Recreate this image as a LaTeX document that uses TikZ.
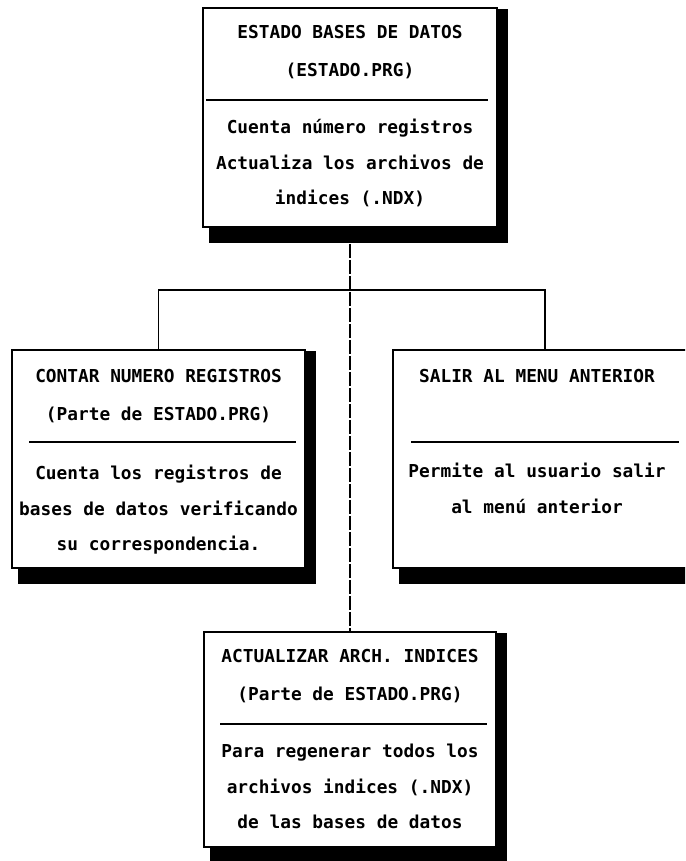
\documentclass[tikz,border=0pt]{standalone}
\usepackage{fontspec}
\setmonofont{DejaVu Sans Mono}
\usetikzlibrary{positioning}

\begin{document}
\begin{tikzpicture}[x=1pt,y=-1pt,
	modbox/.style={draw, line width=1.6pt, fill=white, inner sep=0pt, minimum height=218pt},
	titletext/.style={font=\ttfamily\bfseries\fontsize{17.8}{38}\selectfont, align=center, inner sep=0pt},
	bodytext/.style={font=\ttfamily\bfseries\fontsize{17.8}{35.5}\selectfont, align=center, inner sep=0pt},
	sepline/.style={line width=1.5pt},
	link/.style={line width=1.5pt},
	trunk/.style={line width=1.5pt, dash pattern=on 14pt off 2pt}]
	\useasboundingbox (0,0) rectangle (685,861);
	\clip (0,0) rectangle (685,861);
	\node[modbox, minimum width=294pt, minimum height=219pt] (estado) at (350,117.5) {};
	\node[modbox, minimum width=293pt] (contar) at (158.5,459) {};
	\node[modbox, minimum width=304pt] (salir) at (545,459) {};
	\node[modbox, minimum width=292pt, minimum height=215pt] (actual) at (350,739.5) {};
	\coordinate (bus) at ([yshift=-62pt]estado.south);
	\draw[trunk] (estado.south) -- (actual.north);
	\draw[link] (bus) -| (contar.north);
	\draw[link] (bus) -| (salir.north);
	\foreach \b in {estado,contar,salir,actual}
		\fill ([yshift=-2pt]\b.north east) -- ([xshift=10pt,yshift=-2pt]\b.north east)
			-- ([xshift=10pt,yshift=-15pt]\b.south east) -- ([xshift=7pt,yshift=-15pt]\b.south west)
			-- ([xshift=7pt]\b.south west) -- (\b.south east) -- cycle;
	\node[titletext, below=18pt of estado.north] (estadoT) {ESTADO BASES DE DATOS\\(ESTADO.PRG)};
	\node[bodytext, below=112pt of estado.north] (estadoB) {Cuenta número registros\\Actualiza los archivos de\\indices (.NDX)};
	\draw[sepline] ([xshift=4pt,yshift=-93pt]estado.north west) -- ([xshift=-10pt,yshift=-93pt]estado.north east);
	\node[titletext, below=20pt of contar.north] (contarT) {CONTAR NUMERO REGISTROS\\(Parte de ESTADO.PRG)};
	\node[bodytext, below=116pt of contar.north] (contarB) {Cuenta los registros de\\bases de datos verificando\\su correspondencia.};
	\draw[sepline] ([xshift=18pt,yshift=-93pt]contar.north west) -- ([xshift=-10pt,yshift=-93pt]contar.north east);
	\node[titletext, below=20pt of salir.north, xshift=-8pt] (salirT) {SALIR AL MENU ANTERIOR};
	\node[bodytext, below=114pt of salir.north, xshift=-8pt] (salirB) {Permite al usuario salir\\al menú anterior};
	\draw[sepline] ([xshift=19pt,yshift=-93pt]salir.north west) -- ([xshift=-19pt,yshift=-93pt]salir.north east);
	\node[titletext, below=18pt of actual.north] (actualT) {ACTUALIZAR ARCH. INDICES\\(Parte de ESTADO.PRG)};
	\node[bodytext, below=113pt of actual.north] (actualB) {Para regenerar todos los\\archivos indices (.NDX)\\de las bases de datos};
	\draw[sepline] ([xshift=17pt,yshift=-93pt]actual.north west) -- ([xshift=-10pt,yshift=-93pt]actual.north east);
\end{tikzpicture}
\end{document}
